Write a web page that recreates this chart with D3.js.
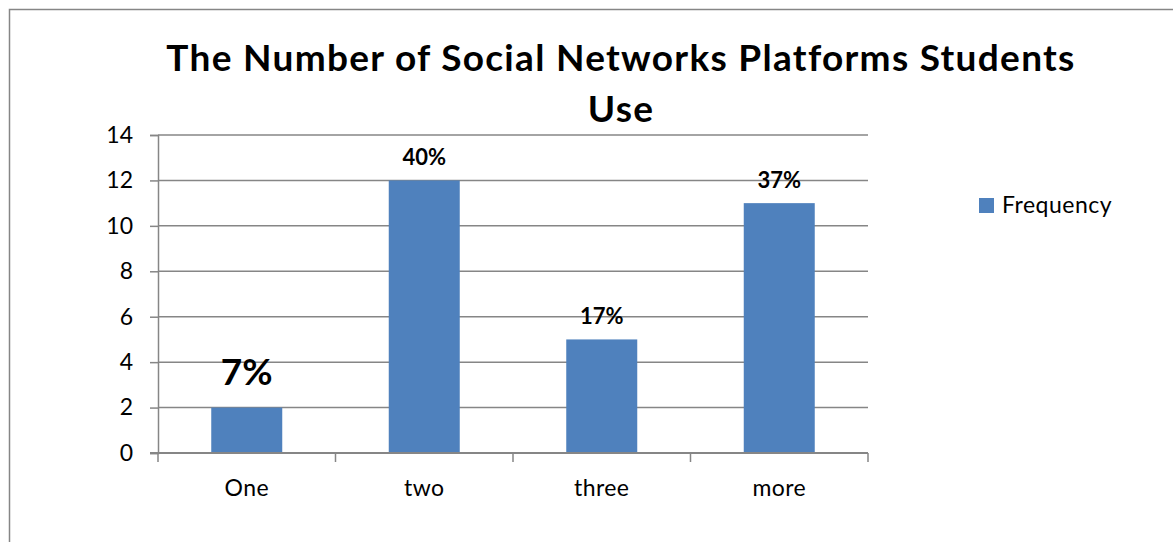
<!DOCTYPE html>
<html>
<head>
<meta charset="utf-8">
<script src="https://cdn.jsdelivr.net/npm/d3@7"></script>
<style>
  html, body { margin: 0; padding: 0; background: #fff; }
  svg { display: block; }
  text { font-family: Lato, "Open Sans", sans-serif; fill: #000; }
</style>
</head>
<body>
<svg id="chart" width="1173" height="542"></svg>
<script>
// Chart data
const categories = ["One", "two", "three", "more"];
const frequency = [2, 12, 5, 11];
const percentLabels = ["7%", "40%", "17%", "37%"];
const yTicks = [0, 2, 4, 6, 8, 10, 12, 14];
const seriesName = "Frequency";
const titleLines = ["The Number of Social Networks Platforms Students", "Use"];

const svg = d3.select("#chart");
const barColor = "#4F81BD";
const lineColor = "#868686";

// Outer chart frame
svg.append("rect")
  .attr("x", 9.5).attr("y", 9.5)
  .attr("width", 1240).attr("height", 560)
  .attr("fill", "#fff")
  .attr("stroke", lineColor).attr("stroke-width", 1.5);

const plot = { left: 158, right: 868, top: 135, bottom: 453 };

const x = d3.scaleBand()
  .domain(categories)
  .range([plot.left, plot.right])
  .paddingInner(0.6)
  .paddingOuter(0.3);

const y = d3.scaleLinear()
  .domain([0, 14])
  .range([plot.bottom, plot.top]);

// Horizontal gridlines
svg.append("g")
  .selectAll("line")
  .data(yTicks.filter(d => d > 0))
  .join("line")
  .attr("x1", plot.left).attr("x2", plot.right)
  .attr("y1", d => y(d)).attr("y2", d => y(d))
  .attr("stroke", lineColor).attr("stroke-width", 1.5);

// Y axis
const yAxis = svg.append("g")
  .attr("transform", `translate(${plot.left},0)`)
  .call(d3.axisLeft(y).tickValues(yTicks).tickSize(8).tickPadding(17));
yAxis.select(".domain").attr("stroke", lineColor).attr("stroke-width", 1.5);
yAxis.selectAll(".tick line").attr("stroke", lineColor).attr("stroke-width", 1.5);
yAxis.selectAll(".tick text")
  .attr("font-family", "Lato, sans-serif")
  .attr("font-size", 23)
  .attr("fill", "#000");

// Bars
svg.append("g")
  .selectAll("rect")
  .data(categories)
  .join("rect")
  .attr("x", d => x(d))
  .attr("width", x.bandwidth())
  .attr("y", (d, i) => y(frequency[i]))
  .attr("height", (d, i) => y(0) - y(frequency[i]))
  .attr("fill", barColor);

// X axis with tick marks at category boundaries
const xg = svg.append("g");
xg.append("line")
  .attr("x1", plot.left - 8).attr("x2", plot.right)
  .attr("y1", y(0)).attr("y2", y(0))
  .attr("stroke", lineColor).attr("stroke-width", 2);
const step = x.step();
const boundaries = d3.range(categories.length + 1).map(i => plot.left + i * step);
xg.selectAll("line.tick")
  .data(boundaries)
  .join("line")
  .attr("class", "tick")
  .attr("x1", d => d).attr("x2", d => d)
  .attr("y1", y(0)).attr("y2", y(0) + 9)
  .attr("stroke", lineColor).attr("stroke-width", 1.5);
xg.selectAll("text")
  .data(categories)
  .join("text")
  .attr("x", d => x(d) + x.bandwidth() / 2)
  .attr("y", 496)
  .attr("text-anchor", "middle")
  .attr("font-size", 23)
  .attr("letter-spacing", "0.4px")
  .text(d => d);

// Percentage labels above bars
svg.append("g")
  .selectAll("text")
  .data(categories)
  .join("text")
  .attr("x", d => x(d) + x.bandwidth() / 2)
  .attr("y", (d, i) => y(frequency[i]) - (i === 0 ? 23 : 15))
  .attr("text-anchor", "middle")
  .attr("font-weight", "bold")
  .attr("font-size", (d, i) => i === 0 ? 37 : 22)
  .text((d, i) => percentLabels[i]);

// Title
svg.append("g")
  .selectAll("text")
  .data(titleLines)
  .join("text")
  .attr("x", 621)
  .attr("y", (d, i) => 71 + i * 51)
  .attr("text-anchor", "middle")
  .attr("font-weight", "bold")
  .attr("font-size", 37)
  .attr("letter-spacing", "1.3px")
  .text(d => d);

// Legend
const legend = svg.append("g").attr("transform", "translate(979,198)");
legend.append("rect").attr("width", 15).attr("height", 15).attr("fill", barColor);
legend.append("text")
  .attr("x", 23).attr("y", 15)
  .attr("font-size", 23)
  .attr("letter-spacing", "0.5px")
  .text(seriesName);
</script>
</body>
</html>
